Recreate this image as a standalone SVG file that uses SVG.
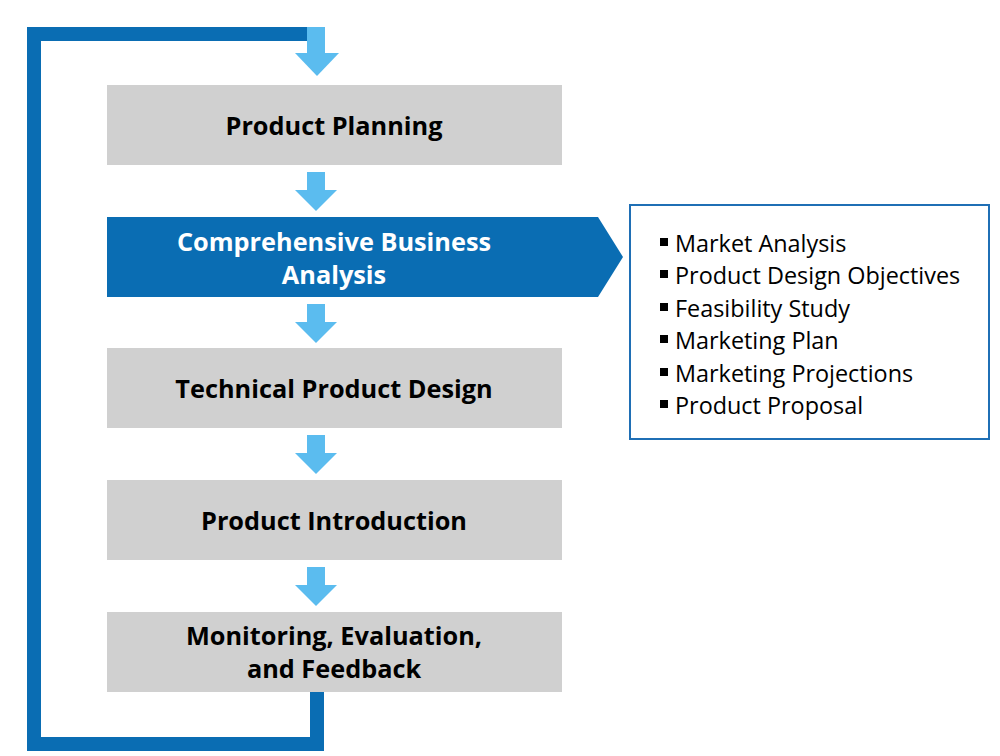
<svg xmlns="http://www.w3.org/2000/svg" width="1000" height="756" viewBox="0 0 1000 756">
<style>
.box{fill:#d0d0d0}
.t{font-family:"Open Sans","Liberation Sans",sans-serif;font-weight:bold;font-size:25.3px;fill:#000;text-anchor:middle}
.tw{fill:#fff}
.li{font-family:"Open Sans","Liberation Sans",sans-serif;font-size:23.4px;fill:#000}
.arr{fill:#5bbcef}
.bul{fill:#000}
</style>
<defs>
<g id="dn"><rect x="-9" y="0" width="18" height="19" class="arr"/><polygon points="-21,18 21,18 0,39" class="arr"/></g>
</defs>
<rect width="1000" height="756" fill="#fff"/>
<g id="connectors">
<path d="M317 692 V744 H34 V34 H308" fill="none" stroke="#0a6db3" stroke-width="14" stroke-linejoin="miter"/>
<rect x="307" y="27" width="18" height="27" class="arr"/>
<polygon points="295,53 339,53 317,76" class="arr"/>
<use href="#dn" x="316" y="172"/>
<use href="#dn" x="316" y="304"/>
<use href="#dn" x="316" y="435"/>
<use href="#dn" x="316" y="567"/>
</g>
<g id="n1"><rect class="box" x="107" y="85" width="455" height="80"/><text class="t" x="334" y="135">Product Planning</text></g>
<g id="n2"><polygon points="107,217 598,217 623,257 598,297 107,297" fill="#0a6db3"/><text class="t tw" x="334" y="251">Comprehensive Business</text><text class="t tw" x="334" y="284">Analysis</text></g>
<g id="n3"><rect class="box" x="107" y="348" width="455" height="80"/><text class="t" x="334" y="398">Technical Product Design</text></g>
<g id="n4"><rect class="box" x="107" y="480" width="455" height="80"/><text class="t" x="334" y="530">Product Introduction</text></g>
<g id="n5"><rect class="box" x="107" y="612" width="455" height="80"/><text class="t" x="334" y="645">Monitoring, Evaluation,</text><text class="t" x="334" y="678">and Feedback</text></g>
<g id="details">
<rect x="630" y="205" width="359" height="234" fill="#fff" stroke="#1f6fb5" stroke-width="2"/>
<rect class="bul" x="660" y="238" width="8" height="8"/><text class="li" x="675" y="252">Market Analysis</text>
<rect class="bul" x="660" y="270" width="8" height="8"/><text class="li" x="675" y="284">Product Design Objectives</text>
<rect class="bul" x="660" y="303" width="8" height="8"/><text class="li" x="675" y="317">Feasibility Study</text>
<rect class="bul" x="660" y="335" width="8" height="8"/><text class="li" x="675" y="349">Marketing Plan</text>
<rect class="bul" x="660" y="368" width="8" height="8"/><text class="li" x="675" y="382">Marketing Projections</text>
<rect class="bul" x="660" y="400" width="8" height="8"/><text class="li" x="675" y="414">Product Proposal</text>
</g>
</svg>
